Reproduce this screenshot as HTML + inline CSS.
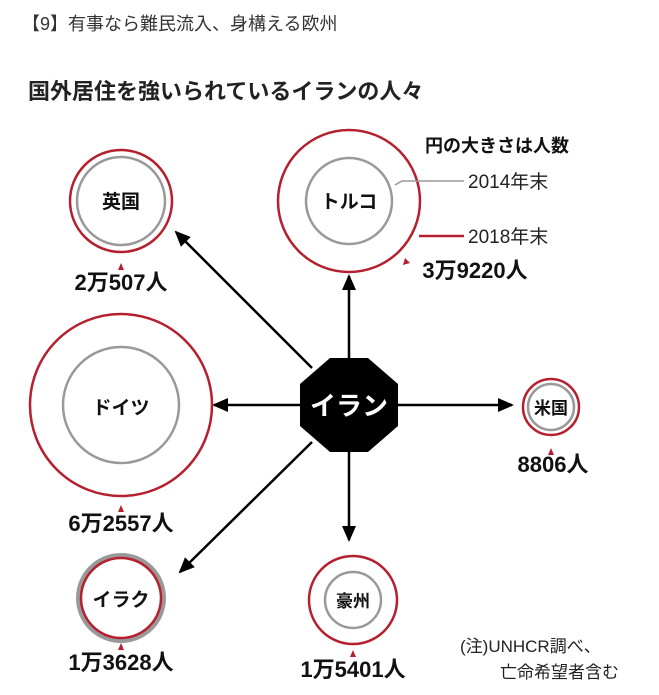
<!DOCTYPE html>
<html><head><meta charset="utf-8"><style>
body{margin:0;background:#fff;width:659px;height:690px;overflow:hidden}
svg text{font-family:"Liberation Sans","Noto Sans CJK JP",sans-serif}
</style></head><body>
<svg width="659" height="690" viewBox="0 0 659 690" xmlns="http://www.w3.org/2000/svg">
<defs><marker id="a" markerWidth="16" markerHeight="14" refX="14" refY="7" orient="auto" markerUnits="userSpaceOnUse"><path d="M0,0 L16,7 L0,14 Z" fill="#000"/></marker></defs>
<text x="22" y="30" font-size="18" fill="#333">【9】有事なら難民流入、身構える欧州</text>
<text x="28" y="99" font-size="22" font-weight="bold" fill="#222">国外居住を強いられているイランの人々</text>
<g stroke="#000" stroke-width="2.5" marker-end="url(#a)">
<line x1="349" y1="360" x2="349" y2="276"/>
<line x1="312" y1="368" x2="176" y2="232"/>
<line x1="300" y1="405" x2="214" y2="405"/>
<line x1="398" y1="405" x2="512" y2="405"/>
<line x1="349" y1="450" x2="349" y2="540"/>
<line x1="312" y1="442" x2="180" y2="572"/>
</g>
<polygon points="330,358 368,358 398,384 398,426 368,452 330,452 300,426 300,384" fill="#000"/>
<text x="349" y="415" font-size="26" font-weight="bold" fill="#fff" text-anchor="middle">イラン</text>
<g fill="none" stroke-width="2.5">
<circle cx="121" cy="201" r="51" stroke="#b5202e"/><circle cx="121" cy="201" r="44" stroke="#999"/>
<circle cx="349" cy="201" r="71" stroke="#b5202e"/><circle cx="349" cy="201" r="43" stroke="#999"/>
<circle cx="121" cy="405" r="91" stroke="#b5202e"/><circle cx="121" cy="405" r="58" stroke="#999"/>
<circle cx="551" cy="407" r="28" stroke="#b5202e"/><circle cx="551" cy="407" r="23" stroke="#999"/>
<circle cx="121" cy="598" r="43" stroke="#999" stroke-width="4"/><circle cx="121" cy="598" r="40" stroke="#b5202e"/>
<circle cx="353" cy="600" r="44" stroke="#b5202e"/><circle cx="353" cy="600" r="28" stroke="#999"/>
<path d="M395,185 L402,181 L464,181" stroke="#999" stroke-width="1.5"/>
<line x1="419" y1="236" x2="464" y2="236" stroke="#b5202e"/>
</g>
<g font-weight="bold" font-size="19" fill="#111" text-anchor="middle">
<text x="121" y="208">英国</text><text x="349" y="208">トルコ</text><text x="121" y="414">ドイツ</text>
<text x="551" y="414" font-size="17">米国</text><text x="121" y="606">イラク</text><text x="353" y="607" font-size="17">豪州</text>
</g>
<g fill="#b5202e">
<path d="M118,270 L121,263 L124,270Z"/><path d="M118,512 L121,505 L124,512Z"/><path d="M548,455 L551,448 L554,455Z"/>
<path d="M118,650 L121,643 L124,650Z"/><path d="M350,657 L353,650 L356,657Z"/><path d="M403,265 L405,258 L410,263Z"/>
</g>
<g font-size="22" fill="#111" text-anchor="middle" font-weight="bold">
<text x="121" y="290">2万507人</text><text x="475" y="278">3万9220人</text><text x="121" y="531">6万2557人</text>
<text x="553" y="472">8806人</text><text x="121" y="670">1万3628人</text><text x="353" y="677">1万5401人</text>
</g>
<text x="425" y="152" font-size="18" font-weight="bold" fill="#111">円の大きさは人数</text>
<text x="468" y="188" font-size="19" fill="#222">2014年末</text>
<text x="468" y="243" font-size="19" fill="#222">2018年末</text>
<text x="460" y="652" font-size="17" fill="#222">(注)UNHCR調べ、</text>
<text x="500" y="678" font-size="17" fill="#222">亡命希望者含む</text>
</svg>
</body></html>
